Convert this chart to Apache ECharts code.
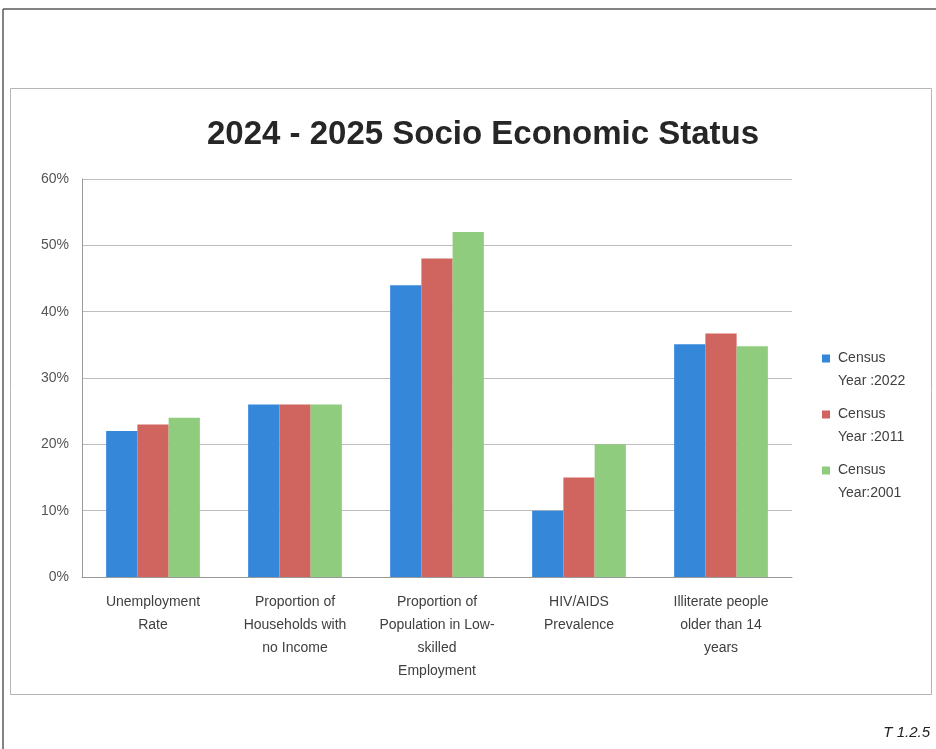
<!DOCTYPE html>
<html>
<head>
<meta charset="utf-8">
<script src="https://cdn.jsdelivr.net/npm/echarts@6/dist/echarts.min.js"></script>
<style>
  html, body { margin: 0; padding: 0; background: #fff; }
  #chart { width: 936px; height: 749px; }
</style>
</head>
<body>
<div id="chart"></div>
<script>
// Indicators shown along the horizontal axis
const categories = [
  'Unemployment\nRate',
  'Proportion of\nHouseholds with\nno Income',
  'Proportion of\nPopulation in Low-\nskilled\nEmployment',
  'HIV/AIDS\nPrevalence',
  'Illiterate people\nolder than 14\nyears'
];

// Census rounds (legend entries)
const seriesNames = ['Census\nYear :2022', 'Census\nYear :2011', 'Census\nYear:2001'];

// Percentages per indicator for each census round
const census2022 = [22, 26, 44, 10, 35.1];
const census2011 = [23, 26, 48, 15, 36.7];
const census2001 = [24, 26, 52, 20, 34.8];

// Y axis range in percent
const yMin = 0;
const yMax = 60;
const yStep = 10;

const colors = ['#3587da', '#cf655e', '#8fcc7d'];
const baseFont = '"Liberation Sans", Arial, sans-serif';

const chart = echarts.init(document.getElementById('chart'), null, { renderer: 'canvas' });

const seriesData = [census2022, census2011, census2001];

chart.setOption({
  backgroundColor: '#ffffff',
  animation: false,
  color: colors,
  title: {
    text: '2024 - 2025 Socio Economic Status',
    left: 478,
    textAlign: 'center',
    top: 113,
    textStyle: {
      fontFamily: '"Liberation Sans Narrow", "Arial Narrow", "Liberation Sans", Arial, sans-serif',
      fontWeight: 'bold',
      fontSize: 33,
      color: '#262626'
    }
  },
  legend: {
    orient: 'vertical',
    left: 817,
    top: 342,
    itemGap: 10,
    itemWidth: 8,
    itemHeight: 31,
    // square marker sits level with the first text line
    icon: 'path://M0,0L8,0L8,8L0,8Z M0,31',
    textStyle: {
      fontFamily: baseFont,
      fontSize: 14,
      lineHeight: 23,
      color: '#404040',
      padding: [0, 0, 0, 3]
    },
    data: seriesNames
  },
  grid: {
    left: 82,
    right: 144,
    top: 179,
    bottom: 172,
    containLabel: false
  },
  xAxis: {
    type: 'category',
    data: categories,
    axisTick: { show: false },
    axisLine: { show: true, lineStyle: { color: '#9a9a9a', width: 1 } },
    axisLabel: {
      interval: 0,
      margin: 14,
      fontFamily: baseFont,
      fontSize: 14,
      lineHeight: 23,
      color: '#404040'
    }
  },
  yAxis: {
    type: 'value',
    min: yMin,
    max: yMax,
    interval: yStep,
    axisLine: { show: true, lineStyle: { color: '#9a9a9a', width: 1 } },
    axisTick: { show: false },
    axisLabel: {
      formatter: '{value}%',
      margin: 13,
      fontFamily: baseFont,
      fontSize: 14,
      color: '#555555'
    },
    splitLine: { show: true, lineStyle: { color: '#bdbdbd', width: 1 } }
  },
  series: seriesData.map((vals, i) => ({
    name: seriesNames[i],
    type: 'bar',
    data: vals,
    barGap: '0%',
    barCategoryGap: '34%',
    itemStyle: { color: colors[i] }
  })),
  graphic: [
    // outer page frame
    {
      type: 'line',
      shape: { x1: 3, y1: 9, x2: 936, y2: 9 },
      style: { stroke: '#5a5a5a', lineWidth: 1.5 },
      silent: true
    },
    {
      type: 'line',
      shape: { x1: 3, y1: 9, x2: 3, y2: 749 },
      style: { stroke: '#5a5a5a', lineWidth: 1.5 },
      silent: true
    },
    // chart area border
    {
      type: 'rect',
      shape: { x: 10.5, y: 88.5, width: 921, height: 606 },
      style: { fill: null, stroke: '#b5b5b5', lineWidth: 1 },
      silent: true
    },
    // table reference
    {
      type: 'text',
      right: 6,
      top: 725,
      style: {
        text: 'T 1.2.5',
        font: 'italic 15px "Liberation Sans", Arial, sans-serif',
        fill: '#222222'
      },
      silent: true
    }
  ]
});
</script>
</body>
</html>
